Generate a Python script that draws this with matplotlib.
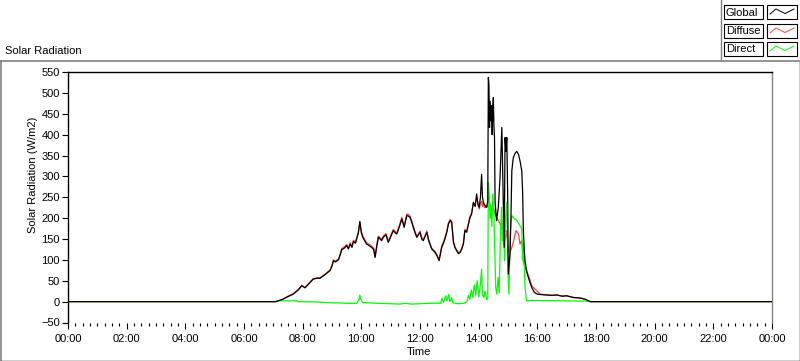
import matplotlib
matplotlib.use("Agg")
import matplotlib.pyplot as plt
from matplotlib.lines import Line2D
from matplotlib.patches import Rectangle
from matplotlib.ticker import MultipleLocator, FuncFormatter

plt.rcParams['font.family'] = ['Liberation Sans', 'DejaVu Sans']

# ---------------- data (hours of day, W/m2) ----------------
global_t = [0, 7.08, 7.3, 7.5, 7.68, 7.85, 7.97, 8.08, 8.2, 8.36,
            8.5, 8.59, 8.75, 8.93, 9.0, 9.05, 9.12, 9.22, 9.28, 9.33,
            9.42, 9.5, 9.56, 9.62, 9.68, 9.73, 9.8, 9.84, 9.9, 9.95,
            10.0, 10.05, 10.12, 10.18, 10.25, 10.35, 10.42, 10.47, 10.52, 10.58,
            10.64, 10.69, 10.76, 10.84, 10.92, 11.0, 11.09, 11.15, 11.21, 11.3,
            11.38, 11.46, 11.55, 11.6, 11.66, 11.72, 11.77, 11.83, 11.89, 11.95,
            12.0, 12.06, 12.11, 12.17, 12.23, 12.3, 12.4, 12.51, 12.58, 12.65,
            12.74, 12.8, 12.85, 12.92, 12.97, 13.03, 13.08, 13.14, 13.2, 13.25,
            13.31, 13.37, 13.42, 13.48, 13.53, 13.59, 13.65, 13.7, 13.76, 13.82,
            13.88, 13.93, 13.98, 14.02, 14.06, 14.10, 14.13, 14.16, 14.2, 14.27,
            14.31, 14.33, 14.35, 14.37, 14.39, 14.42, 14.44, 14.46, 14.48, 14.50,
            14.52, 14.54, 14.56, 14.61, 14.67, 14.73, 14.77, 14.79, 14.82, 14.85,
            14.87, 14.90, 14.93, 14.96, 14.99, 15.01, 15.04, 15.07, 15.10, 15.13,
            15.18, 15.24, 15.30, 15.36, 15.41, 15.47, 15.50, 15.52, 15.55, 15.58,
            15.62, 15.66, 15.73, 15.81, 15.9, 16.0, 16.1, 16.3, 16.5, 16.66,
            16.85, 17.0, 17.22, 17.4, 17.51, 17.65, 17.8, 24]
global_v = [0, 0, 5, 12, 18, 28, 38, 33, 42, 54,
            56, 56, 64, 74, 85, 98, 95, 100, 112, 124,
            128, 134, 126, 138, 130, 144, 140, 150, 165, 192,
            165, 154, 145, 138, 135, 130, 125, 106, 130, 154,
            150, 146, 155, 160, 142, 155, 170, 165, 162, 180,
            198, 178, 206, 205, 202, 190, 178, 165, 154, 160,
            166, 150, 146, 155, 166, 145, 126, 118, 110, 98,
            130, 140, 150, 168, 186, 194, 190, 142, 128, 122,
            115, 118, 125, 138, 170, 166, 185, 200, 210, 238,
            228, 258, 232, 226, 250, 305, 250, 238, 232, 226,
            240, 537, 520, 417, 480, 433, 470, 400, 460, 489,
            420, 393, 238, 194, 226, 300, 380, 417, 313, 200,
            130, 393, 360, 393, 250, 66, 90, 115, 200, 313,
            345, 355, 360, 352, 337, 313, 260, 178, 130, 98,
            80, 66, 50, 34, 22, 18, 17, 16, 15, 16,
            13, 14, 10, 9, 8, 5, 0, 0]

diffuse_t = [0, 7.08, 7.3, 7.5, 7.68, 7.85, 7.97, 8.08, 8.2, 8.36,
             8.5, 8.59, 8.75, 8.93, 9.0, 9.05, 9.12, 9.22, 9.28, 9.33,
             9.42, 9.5, 9.56, 9.62, 9.68, 9.73, 9.8, 9.84, 9.9, 9.95,
             10.0, 10.05, 10.12, 10.18, 10.25, 10.35, 10.42, 10.47, 10.52, 10.58,
             10.64, 10.69, 10.76, 10.84, 10.92, 11.0, 11.09, 11.15, 11.21, 11.3,
             11.38, 11.46, 11.55, 11.6, 11.66, 11.72, 11.77, 11.83, 11.89, 11.95,
             12.0, 12.06, 12.11, 12.17, 12.23, 12.3, 12.4, 12.51, 12.58, 12.65,
             12.74, 12.8, 12.85, 12.92, 12.97, 13.03, 13.08, 13.14, 13.2, 13.25,
             13.31, 13.37, 13.42, 13.48, 13.53, 13.59, 13.65, 13.7, 13.76, 13.82,
             13.88, 13.93, 13.98, 14.02, 14.06, 14.10, 14.13, 14.16, 14.2, 14.27,
             14.31, 14.35, 14.39, 14.44, 14.50, 14.56, 14.61, 14.67, 14.73, 14.79,
             14.84, 14.90, 14.96, 15.01, 15.07, 15.13, 15.18, 15.27, 15.36, 15.41,
             15.47, 15.52, 15.58, 15.70, 15.81, 15.98, 16.1, 16.3, 16.5, 16.66,
             16.85, 17.0, 17.22, 17.4, 17.51, 17.65, 17.8, 24]
diffuse_v = [0, 0, 5, 13, 19, 29, 39, 34, 43, 55,
             57, 57, 65, 76, 87, 100, 97, 102, 114, 127,
             131, 137, 128, 141, 132, 147, 143, 153, 168, 190,
             167, 157, 148, 141, 138, 133, 128, 108, 133, 157,
             153, 149, 158, 163, 145, 158, 173, 168, 165, 183,
             202, 181, 210, 209, 205, 193, 181, 168, 157, 163,
             169, 153, 149, 158, 169, 148, 128, 120, 112, 100,
             133, 143, 153, 171, 189, 197, 192, 145, 130, 124,
             117, 120, 127, 141, 173, 169, 188, 203, 213, 236,
             230, 248, 232, 222, 235, 240, 228, 238, 225, 226,
             232, 245, 230, 215, 226, 210, 202, 195, 186, 175,
             170, 146, 170, 122, 118, 130, 142, 170, 162, 138,
             146, 98, 82, 62, 38, 26, 18, 16, 15, 16,
             13, 14, 10, 9, 8, 5, 0, 0]

direct_t = [0, 7.08, 7.2, 7.8, 7.85, 8.5, 9.0, 9.2, 9.5, 9.85,
            9.92, 9.95, 9.98, 10.05, 10.5, 11.0, 11.3, 11.5, 11.7, 12.0,
            12.3, 12.7, 12.75, 12.8, 12.88, 12.92, 12.98, 13.02, 13.08, 13.12,
            13.3, 13.5, 13.6, 13.65, 13.7, 13.75, 13.8, 13.85, 13.9, 13.95,
            14.0, 14.05, 14.10, 14.13, 14.18, 14.22, 14.27, 14.31, 14.33, 14.36,
            14.39, 14.42, 14.45, 14.48, 14.52, 14.55, 14.58, 14.62, 14.66, 14.70,
            14.74, 14.78, 14.82, 14.85, 14.88, 14.92, 14.96, 14.99, 15.03, 15.08,
            15.13, 15.20, 15.30, 15.41, 15.47, 15.50, 15.53, 15.58, 15.63, 15.8,
            17.75, 17.8, 24]
direct_v = [0, 0, 2, 2, 0, -1, -3, -3, -4, -4,
            5, 16, 5, -2, -4, -5, -6, -4, -6, -5,
            -4, -4, 8, -2, 14, 2, 17, 0, 10, -3,
            -5, -4, 0, 15, 5, 28, 10, 40, 15, 50,
            12, 35, 78, 15, 10, 25, 5, 8, 285, 255,
            200, 230, 180, 258, 210, 120, 34, 18, 58, 20,
            150, 226, 146, 202, 98, 202, 238, 98, 18, 170,
            206, 200, 194, 182, 174, 98, 140, 34, 2, 3,
            1, 0, 0]

series_names = ["Global", "Diffuse", "Direct"]
series_colors = ["#000000", "#FF4040", "#00FF00"]

y_ticks = list(range(-50, 551, 50))
x_major_hours = list(range(0, 25, 2))

# ---------------- figure ----------------
W, H = 800, 361
fig = plt.figure(figsize=(W / 100, H / 100), dpi=100)

def fx(px):
    return px / W

def fy(py):
    return 1 - py / H

ax = fig.add_axes([fx(68), fy(322.5), fx(772) - fx(68), fy(72) - fy(322.5)])

ax.plot(diffuse_t, diffuse_v, color=series_colors[1], lw=0.9, zorder=2)
ax.plot(direct_t, direct_v, color=series_colors[2], lw=0.9, zorder=3)
ax.plot(global_t, global_v, color=series_colors[0], lw=0.9, zorder=4)

ax.set_xlim(0, 24)
ax.set_ylim(-50, 550)
ax.set_yticks(y_ticks)
ax.set_xticks(x_major_hours)
ax.xaxis.set_minor_locator(MultipleLocator(0.25))
ax.xaxis.set_major_formatter(FuncFormatter(lambda v, p: "%02d:00" % (int(round(v)) % 24)))

ax.spines['top'].set_color('black')
ax.spines['left'].set_color('black')
ax.spines['right'].set_color('#808080')
ax.spines['bottom'].set_visible(False)
for s in ax.spines.values():
    s.set_linewidth(1.0)

ax.tick_params(axis='y', which='major', direction='out', length=4, width=0.8,
               pad=2, labelsize=8, colors='black', right=False)
ax.tick_params(axis='x', which='major', direction='out', length=4, width=0.8,
               pad=4, labelsize=8, top=False)
ax.tick_params(axis='x', which='minor', direction='out', length=2.5, width=0.8, top=False)

# axis labels
fig.text(fx(33), fy(175), "Solar Radiation (W/m2)", rotation=90, ha='center', va='center', fontsize=8)
fig.text(fx(419), fy(352), "Time", ha='center', va='center', fontsize=8)
fig.text(fx(5), fy(51), "Solar Radiation", ha='left', va='center', fontsize=8)

# outer frame
fig.add_artist(Line2D([0, 1], [fy(61), fy(61)], color='#808080', lw=1.2, transform=fig.transFigure))
fig.add_artist(Line2D([fx(1), fx(1)], [fy(61), fy(361)], color='#808080', lw=1.2, transform=fig.transFigure))
fig.add_artist(Line2D([fx(799.5), fx(799.5)], [fy(62), fy(361)], color='black', lw=1.0, transform=fig.transFigure))
fig.add_artist(Line2D([fx(1), fx(800)], [fy(360.5), fy(360.5)], color='black', lw=1.0, transform=fig.transFigure))
# legend recess
fig.add_artist(Line2D([fx(720.5), fx(720.5)], [fy(0), fy(60)], color='#808080', lw=1.0, transform=fig.transFigure))

# legend
box_tops = [5, 24, 42]
for name, col, top in zip(series_names, series_colors, box_tops):
    h = 14
    fig.add_artist(Rectangle((fx(724), fy(top + h)), fx(763) - fx(724), fy(top) - fy(top + h),
                             transform=fig.transFigure, facecolor='white', edgecolor='black', lw=0.8))
    fig.text(fx(726), fy(top + h / 2 + 0.5), name, ha='left', va='center', fontsize=8)
    fig.add_artist(Rectangle((fx(767), fy(top + h)), fx(797) - fx(767), fy(top) - fy(top + h),
                             transform=fig.transFigure, facecolor='white', edgecolor='black', lw=0.8))
    zx = [770, 776, 785, 794]
    zy = [top + 9, top + 4, top + 8.5, top + 4]
    fig.add_artist(Line2D([fx(v) for v in zx], [fy(v) for v in zy], color=col, lw=0.7,
                          transform=fig.transFigure))

fig.savefig("out.png", dpi=100)
